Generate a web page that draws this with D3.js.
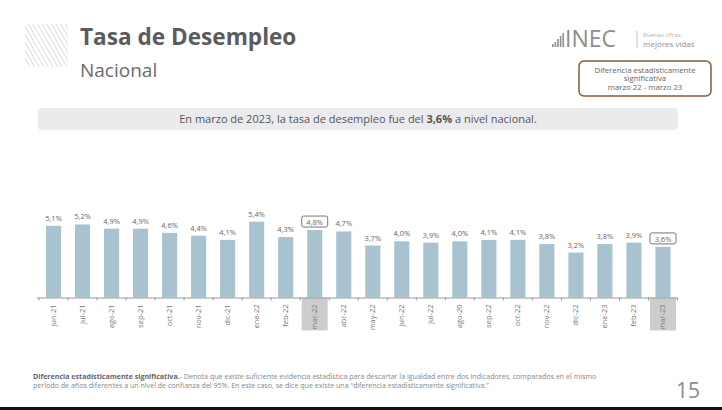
<!DOCTYPE html>
<html lang="es">
<head>
<meta charset="UTF-8">
<script src="https://d3js.org/d3.v7.min.js"></script>
<title>Tasa de Desempleo</title>
<style>
  body { margin: 0; background: #fff; }
  svg { display: block; font-family: "Open Sans", sans-serif; }
</style>
</head>
<body>
<script>
var meses = ["jun-21", "jul-21", "ago-21", "sep-21", "oct-21", "nov-21", "dic-21", "ene-22",
             "feb-22", "mar-22", "abr-22", "may-22", "jun-22", "jul-22", "ago-20", "sep-22",
             "oct-22", "nov-22", "dic-22", "ene-23", "feb-23", "mar-23"];
var tasa = [5.1, 5.2, 4.9, 4.9, 4.6, 4.4, 4.1, 5.4, 4.3, 4.8, 4.7, 3.7, 4.0, 3.9, 4.0, 4.1,
            4.1, 3.8, 3.2, 3.8, 3.9, 3.6];
var resaltados = ["mar-22", "mar-23"];

var w = 722, h = 410;
var svg = d3.select("body").append("svg").attr("width", w).attr("height", h);

// hatched square
var hatch = svg.append("defs").append("pattern")
    .attr("id", "hatch").attr("patternUnits", "userSpaceOnUse")
    .attr("width", 4).attr("height", 4)
    .attr("patternTransform", "rotate(-30)");
hatch.append("line").attr("x1", 0).attr("y1", 0).attr("x2", 0).attr("y2", 4)
    .attr("stroke", "#c9c9c9").attr("stroke-width", 1.2);
svg.append("rect").attr("x", 25).attr("y", 24).attr("width", 43).attr("height", 43)
    .attr("fill", "url(#hatch)");

svg.append("text").attr("x", 80).attr("y", 45)
    .attr("font-size", 22.6).attr("font-weight", "bold").attr("fill", "#5b5b5b")
    .text("Tasa de Desempleo");
svg.append("text").attr("x", 80).attr("y", 77)
    .attr("font-size", 19).attr("fill", "#6a6a6a")
    .text("Nacional");

// logo
var logo = svg.append("g");
[3, 5, 8, 11, 14].forEach(function(bh, i) {
    logo.append("rect").attr("x", 552 + i * 2.6).attr("y", 47 - bh)
        .attr("width", 1.6).attr("height", bh).attr("fill", "#8e8e8e");
});
logo.append("text").attr("x", 565).attr("y", 47).attr("font-size", 23)
    .attr("fill", "#8e8e8e").text("INEC");
logo.append("line").attr("x1", 637).attr("x2", 637).attr("y1", 31).attr("y2", 48)
    .attr("stroke", "#c5c5c5");
logo.append("text").attr("x", 643).attr("y", 37).attr("font-size", 6)
    .attr("fill", "#b0b0b0").text("Buenas cifras,");
logo.append("text").attr("x", 643).attr("y", 47).attr("font-size", 8)
    .attr("fill", "#909090").text("mejores vidas");

// legend box
svg.append("rect").attr("x", 579).attr("y", 61).attr("width", 132).attr("height", 35)
    .attr("rx", 5).attr("fill", "#fff").attr("stroke", "#8a5a36").attr("stroke-width", 1.5);
var lg = svg.append("text").attr("text-anchor", "middle").attr("font-size", 7.8)
    .attr("fill", "#666");
lg.append("tspan").attr("x", 645).attr("y", 72.5).text("Diferencia estadísticamente");
lg.append("tspan").attr("x", 645).attr("y", 81).text("significativa");
lg.append("tspan").attr("x", 645).attr("y", 89.5).text("marzo  22 - marzo 23");

// summary bar
svg.append("rect").attr("x", 38).attr("y", 108).attr("width", 640).attr("height", 22)
    .attr("rx", 4).attr("fill", "#ebebed");
var sm = svg.append("text").attr("x", 358).attr("y", 123).attr("text-anchor", "middle")
    .attr("font-size", 11).attr("fill", "#555");
sm.append("tspan").text("En marzo de 2023, la tasa de desempleo fue del ");
sm.append("tspan").attr("font-weight", "bold").text("3,6%");
sm.append("tspan").text(" a nivel nacional.");

// chart
var y0 = 297.5;
var x = d3.scaleBand().domain(meses).range([39, 677.5]).paddingInner(0.48).paddingOuter(0.24);
var y = d3.scaleLinear().domain([0, 6]).range([y0, y0 - 6 * 14.05]);
var fmt = function(v) { return d3.format(".1f")(v).replace(".", ",") + "%"; };

// grey box behind highlighted x labels
svg.selectAll("rect.hl").data(resaltados).enter().append("rect").attr("class", "hl")
    .attr("x", function(d) { return x(d) + x.bandwidth() / 2 - 13; })
    .attr("y", y0).attr("width", 26).attr("height", 33)
    .attr("fill", "#cdcdcd");

svg.selectAll("rect.bar").data(tasa).enter().append("rect").attr("class", "bar")
    .attr("x", function(d, i) { return x(meses[i]); })
    .attr("y", function(d) { return y(d); })
    .attr("width", x.bandwidth())
    .attr("height", function(d) { return y0 - y(d); })
    .attr("fill", "#a9c2cf");

// value label boxes for highlighted months
svg.selectAll("rect.lb").data(tasa.filter(function(d, i) { return resaltados.indexOf(meses[i]) >= 0; }))
    .enter().append("rect").attr("class", "lb")
    .attr("x", function(d, i) { return x(resaltados[i]) + x.bandwidth() / 2 - 13; })
    .attr("y", function(d) { return y(d) - 14; })
    .attr("width", 26).attr("height", 11).attr("rx", 2)
    .attr("fill", "#fff").attr("stroke", "#555").attr("stroke-width", 0.8);

svg.selectAll("text.val").data(tasa).enter().append("text").attr("class", "val")
    .attr("x", function(d, i) { return x(meses[i]) + x.bandwidth() / 2; })
    .attr("y", function(d) { return y(d) - 5; })
    .attr("text-anchor", "middle").attr("font-size", 7.5).attr("fill", "#666")
    .text(fmt);

// axis
var axis = svg.append("g").attr("transform", "translate(0," + y0 + ")")
    .call(d3.axisBottom(x).tickSize(0).tickSizeOuter(0));
axis.select(".domain").attr("stroke", "#9a9a9a").attr("d", "M37,0.5H678");
axis.selectAll(".tick text")
    .attr("font-family", "'Open Sans', sans-serif").attr("font-size", 7.5).attr("fill", "#777")
    .attr("transform", "rotate(-90)").attr("text-anchor", "end")
    .attr("x", -7).attr("y", 0).attr("dy", "0.32em");
var bounds = meses.map(function(m) { return x(m) - x.step() * x.paddingInner() / 2; });
bounds.push(x(meses[meses.length - 1]) + x.bandwidth() + x.step() * x.paddingInner() / 2);
axis.selectAll("line.bt").data(bounds).enter().append("line").attr("class", "bt")
    .attr("x1", function(d) { return d; }).attr("x2", function(d) { return d; })
    .attr("y1", 0).attr("y2", 3).attr("stroke", "#9a9a9a");

// footnote
var fn = svg.append("text").attr("font-size", 7.1).attr("fill", "#888");
var l1 = fn.append("tspan").attr("x", 33).attr("y", 379);
l1.append("tspan").attr("font-weight", "bold").attr("fill", "#666")
    .text("Diferencia estadísticamente significativa.");
l1.append("tspan").text("- Denota que existe suficiente evidencia estadística para descartar la igualdad entre dos indicadores, comparados en el mismo");
fn.append("tspan").attr("x", 33).attr("y", 388)
    .text("periodo de años diferentes a un nivel de confianza del 95%. En este caso, se dice que existe una \u201cdiferencia estadísticamente significativa.\u201d");

svg.append("text").attr("x", 688).attr("y", 398).attr("text-anchor", "middle")
    .attr("font-size", 21).attr("fill", "#8a8a8a").text("15");

svg.append("rect").attr("x", 0).attr("y", 407).attr("width", w).attr("height", 3).attr("fill", "#111");
</script>
</body>
</html>
